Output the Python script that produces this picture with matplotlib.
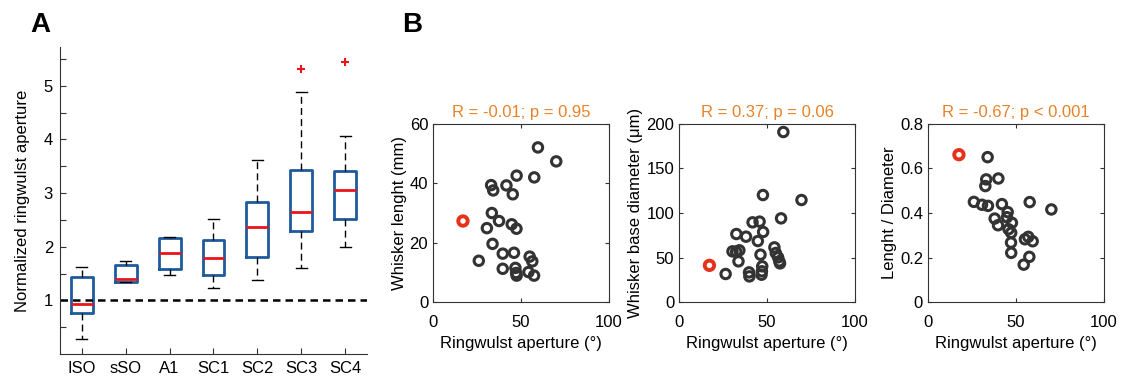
import numpy as np
import matplotlib
matplotlib.use("Agg")
import matplotlib.pyplot as plt

plt.rcParams["font.family"] = ["Liberation Sans", "DejaVu Sans"]

# Panel A: box statistics per group
groups = ["ISO", "sSO", "A1", "SC1", "SC2", "SC3", "SC4"]
whislo = [0.28, 1.35, 1.47, 1.23, 1.38, 1.60, 1.99]
q1 = [0.77, 1.35, 1.59, 1.48, 1.81, 2.30, 2.52]
med = [0.94, 1.40, 1.89, 1.78, 2.37, 2.65, 3.06]
q3 = [1.44, 1.65, 2.16, 2.13, 2.84, 3.42, 3.41]
whishi = [1.62, 1.73, 2.18, 2.52, 3.62, 4.88, 4.07]
fliers = [[], [], [], [], [], [5.31], [5.44]]

# Panel B: scatter data (first point = red highlighted specimen)
len_x = [17.0, 59.6, 70.0, 47.5, 57.5, 33.0, 34.2, 41.7, 45.3, 33.4, 37.5, 30.6, 44.7,
         47.4, 33.8, 39.6, 46.0, 26.0, 54.9, 56.4, 39.6, 46.8, 47.2, 47.5, 54.2, 57.4]
len_y = [27.3, 52.1, 47.4, 42.6, 42.0, 39.4, 37.6, 39.3, 36.3, 30.0, 27.3, 24.9, 26.2,
         24.7, 19.6, 16.3, 16.6, 13.9, 15.3, 13.7, 11.2, 11.5, 9.8, 8.9, 10.1, 8.9]

dia_x = [17.3, 59.3, 47.7, 69.6, 58.0, 41.8, 45.8, 32.6, 38.1, 47.8, 44.8, 30.4, 32.5,
         34.3, 33.8, 46.3, 54.2, 55.0, 56.3, 57.0, 57.4, 26.5, 39.8, 40.0, 47.3, 47.1, 46.9]
dia_y = [41.2, 191.0, 120.2, 114.6, 94.0, 89.5, 90.3, 76.4, 73.4, 78.7, 68.5, 56.9, 56.6,
         58.1, 45.7, 53.2, 61.4, 55.1, 50.2, 45.7, 43.4, 31.5, 33.3, 28.8, 40.1, 34.5, 30.7]

rat_x = [17.6, 33.9, 33.1, 40.0, 32.6, 26.1, 30.7, 34.1, 42.0, 57.8, 70.1, 45.3, 37.9,
         39.8, 44.9, 47.7, 45.8, 47.3, 47.2, 47.3, 55.1, 57.0, 59.5, 54.4, 57.6]
rat_y = [0.662, 0.651, 0.551, 0.555, 0.521, 0.450, 0.437, 0.432, 0.440, 0.449, 0.416, 0.404, 0.375,
         0.345, 0.381, 0.356, 0.327, 0.311, 0.267, 0.221, 0.282, 0.293, 0.273, 0.168, 0.203]

titles = ["R = -0.01; p = 0.95", "R = 0.37; p = 0.06", "R = -0.67; p < 0.001"]
ylabels = ["Whisker lenght (mm)", "Whisker base diameter (\u03bcm)", "Lenght / Diameter"]
ylims = [(0, 60), (0, 200), (0, 0.8)]
yticks = [[0, 20, 40, 60], [0, 50, 100, 150, 200], [0, 0.2, 0.4, 0.6, 0.8]]

spine_col = "#333333"
box_col = "#1f5a9c"
fs = 12

fig = plt.figure(figsize=(11.21, 3.78), dpi=100)

# ---- Panel A ----
ax = fig.add_axes([0.0535, 0.0635, 0.2739, 0.812])
stats = []
for i, g in enumerate(groups):
    stats.append(dict(label=g, whislo=whislo[i], q1=q1[i], med=med[i],
                      q3=q3[i], whishi=whishi[i], fliers=fliers[i]))
ax.bxp(stats, widths=0.5, showfliers=True,
       boxprops=dict(color=box_col, linewidth=2),
       medianprops=dict(color="#e8161b", linewidth=2),
       whiskerprops=dict(color="black", linestyle=(0, (5, 3)), linewidth=1),
       capprops=dict(color="black", linewidth=1),
       flierprops=dict(marker="+", markeredgecolor="#e8161b", markersize=6, markeredgewidth=1.5))
ax.axhline(1, color="black", linestyle=(0, (3, 2)), linewidth=1.8)
ax.set_xlim(0.5, 7.5)
ax.set_ylim(0, 5.72)
ax.set_yticks(np.arange(0.5, 5.6, 0.5))
ax.set_yticklabels(["" if v % 1 else str(int(v)) for v in np.arange(0.5, 5.6, 0.5)])
ax.set_ylabel("Normalized ringwulst aperture", fontsize=fs, labelpad=10)
ax.tick_params(direction="in", labelsize=fs, color=spine_col, length=4, pad=5)
for s in ["top", "right"]:
    ax.spines[s].set_visible(False)
for s in ["left", "bottom"]:
    ax.spines[s].set_color(spine_col)
fig.text(0.027, 0.915, "A", fontsize=20, fontweight="bold")

# ---- Panel B ----
lefts = [0.3863, 0.6057, 0.8278]
xs = [len_x, dia_x, rat_x]
ys = [len_y, dia_y, rat_y]
for k in range(3):
    axb = fig.add_axes([lefts[k], 0.201, 0.157, 0.471])
    axb.scatter(xs[k][1:], ys[k][1:], s=46, facecolors="none",
                edgecolors="#333333", linewidths=2.2, zorder=3)
    axb.scatter(xs[k][:1], ys[k][:1], s=46, facecolors="none",
                edgecolors="#e8311a", linewidths=2.8, zorder=4)
    axb.set_xlim(0, 100)
    axb.set_ylim(*ylims[k])
    axb.set_xticks([0, 50, 100])
    axb.set_yticks(yticks[k])
    if k == 2:
        axb.set_yticklabels(["0", "0.2", "0.4", "0.6", "0.8"])
    axb.tick_params(direction="in", top=True, right=True, labelsize=fs,
                    color=spine_col, length=3)
    axb.tick_params(axis="x", pad=9)
    for s in axb.spines.values():
        s.set_color(spine_col)
    axb.set_xlabel("Ringwulst aperture (\u00b0)", fontsize=fs, labelpad=5)
    axb.set_ylabel(ylabels[k], fontsize=fs, labelpad=2)
    axb.set_title(titles[k], color="#e8822a", fontsize=fs, pad=5)
fig.text(0.359, 0.915, "B", fontsize=20, fontweight="bold")

fig.savefig("out.png", dpi=100)
